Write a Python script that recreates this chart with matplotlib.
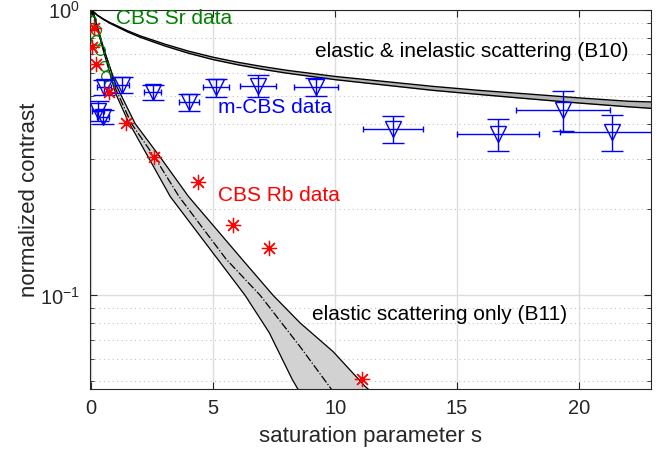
import matplotlib
matplotlib.use("Agg")
import matplotlib.pyplot as plt
import numpy as np
from matplotlib.ticker import FixedLocator, NullFormatter

plt.rcParams["font.family"] = ["Liberation Sans", "DejaVu Sans"]
plt.rcParams["mathtext.fontset"] = "custom"
plt.rcParams["mathtext.rm"] = "Liberation Sans"

# theory B10 (elastic & inelastic), upper / lower edge of band
s_b10 = [0, 0.1, 0.25, 0.5, 0.75, 1, 1.5, 2, 3, 4, 5, 6, 7, 8, 10, 12, 14, 16, 18, 20, 22, 23]
b10_hi = [1, 0.985, 0.96, 0.93, 0.905, 0.885, 0.845, 0.812, 0.76, 0.717, 0.683, 0.656,
          0.634, 0.615, 0.585, 0.562, 0.54, 0.522, 0.507, 0.492, 0.479, 0.476]
b10_lo = [1, 0.984, 0.958, 0.926, 0.9, 0.878, 0.837, 0.803, 0.749, 0.705, 0.67, 0.643,
          0.620, 0.601, 0.570, 0.546, 0.523, 0.505, 0.488, 0.472, 0.458, 0.452]

# theory B11 (elastic only): left edge, right edge, centre line
s_b11_lo = [0, 0.1, 0.5, 1.0, 1.5, 2.34, 3.24, 4.88, 6.31, 7.3, 8.24, 8.6]
b11_lo = [1, 0.97, 0.72, 0.51, 0.41, 0.305, 0.222, 0.145, 0.1, 0.074, 0.0508, 0.045]
s_b11_hi = [0, 0.1, 0.5, 1.0, 1.8, 2.83, 3.99, 6.18, 7.46, 8.57, 9.92, 11.23, 11.6]
b11_hi = [1, 0.975, 0.74, 0.55, 0.40, 0.305, 0.222, 0.134, 0.1, 0.08, 0.0635,
          0.048, 0.045]
s_b11_mid = [0, 0.5, 1.0, 1.65, 2.6, 3.6, 5.53, 6.93, 8.57, 9.8, 10.0]
b11_mid = [1, 0.73, 0.53, 0.40, 0.305, 0.222, 0.134, 0.1, 0.066, 0.0475, 0.045]

# CBS Sr data
s_sr = [0.01, 0.18, 0.2, 0.38, 0.52, 0.61, 0.73]
c_sr = [0.923, 0.851, 0.785, 0.725, 0.634, 0.585, 0.547]

# CBS Rb data
s_rb = [0.11, 0.04, 0.2, 0.73, 1.43, 2.59, 4.37, 5.83, 7.3, 11.1]
c_rb = [0.863, 0.744, 0.646, 0.516, 0.403, 0.305, 0.250, 0.176, 0.146, 0.0508]

# m-CBS data
s_m = [0.29, 0.49, 0.53, 1.27, 2.52, 4.02, 5.12, 6.84, 9.22, 12.36, 16.68, 19.34, 21.34]
c_m = [0.443, 0.423, 0.536, 0.547, 0.515, 0.475, 0.536, 0.542, 0.538, 0.384,
       0.369, 0.448, 0.375]
sx_m = [0.25, 0.25, 0.3, 0.3, 0.35, 0.41, 0.53, 0.72, 0.9, 1.23, 1.68, 1.93, 2.13]
cy_m = [0.036, 0.024, 0.032, 0.035, 0.031, 0.034, 0.039, 0.048, 0.039, 0.042,
        0.0475, 0.071, 0.054]

fig = plt.figure(figsize=(6.65, 4.58), dpi=100)
ax = fig.add_axes([0.1353, 0.1507, 0.8437, 0.8275])
ax.set_yscale("log")

# B11 band
s_band = np.linspace(0, 11.6, 300)
lo_i = np.interp(s_band, s_b11_lo, np.log10(b11_lo), right=np.log10(0.03))
hi_i = np.interp(s_band, s_b11_hi, np.log10(b11_hi))
ax.fill_between(s_band, 10**lo_i, 10**hi_i, color="#d2d2d2", lw=0, zorder=1)
ax.plot(s_b11_lo, b11_lo, color="k", lw=0.9, zorder=2)
ax.plot(s_b11_hi, b11_hi, color="k", lw=0.9, zorder=2)
ax.plot(s_b11_mid, b11_mid, color="k", lw=0.9, ls="-.", zorder=2)

# B10 band
ax.fill_between(s_b10, b10_lo, b10_hi, color="#b4b4b4", lw=0, zorder=1)
ax.plot(s_b10, b10_hi, color="k", lw=1.0, zorder=2)
ax.plot(s_b10, b10_lo, color="k", lw=1.0, zorder=2)

# data
ax.plot(s_sr, c_sr, "o", ms=7, mfc="none", mec="#008000", mew=0.9, zorder=3)
ax.plot(s_rb, c_rb, ls="none", marker=(8, 2, 0), ms=11, mec="red", mew=0.9, zorder=4)
ax.errorbar(s_m, c_m, yerr=cy_m, fmt="none", ecolor="blue", elinewidth=1,
            capsize=8, capthick=1, zorder=3)
ax.errorbar(s_m, c_m, xerr=sx_m, fmt="none", ecolor="blue", elinewidth=1,
            capsize=2, capthick=1, zorder=3)
ax.plot(s_m, c_m, "v", ms=11, mfc="none", mec="blue", mew=1, zorder=3)

# labels in plot
fs = 15
ax.text(1.0, 0.93, "CBS Sr data", color="#008000", fontsize=fs, va="center")
ax.text(9.18, 0.713, "elastic & inelastic scattering (B10)", color="k", fontsize=fs,
        va="center")
ax.text(5.2, 0.454, "m-CBS data", color="blue", fontsize=fs, va="center")
ax.text(5.2, 0.224, "CBS Rb data", color="red", fontsize=fs, va="center")
ax.text(9.06, 0.0859, "elastic scattering only (B11)", color="k", fontsize=fs,
        va="center")

ax.set_xlim(-0.05, 22.95)
ax.set_ylim(0.047, 1.0)
ax.set_xticks([0, 5, 10, 15, 20])
ax.yaxis.set_major_locator(FixedLocator([0.1, 1]))
ax.yaxis.set_minor_locator(FixedLocator([0.05, 0.06, 0.07, 0.08, 0.09,
                                         0.2, 0.3, 0.4, 0.5, 0.6, 0.7, 0.8, 0.9]))
ax.yaxis.set_minor_formatter(NullFormatter())
ax.set_yticklabels([r"$10^{-1}$", r"$10^{0}$"])

ax.grid(True, which="major", color="#dddddd", lw=1, ls="-")
ax.grid(True, which="minor", axis="y", color="#c4c4c4", lw=0.8, ls=(0, (1, 3)))
ax.set_axisbelow(True)

ax.tick_params(which="both", direction="in", top=True, right=True,
               labelsize=14.5, colors="#262626", pad=7)
ax.tick_params(which="major", length=5)
ax.tick_params(which="minor", length=3)
for sp in ax.spines.values():
    sp.set_color("#262626")

ax.set_xlabel("saturation parameter s", fontsize=16, color="#262626", labelpad=6)
ax.set_ylabel("normalized contrast", fontsize=16, color="#262626", labelpad=0)

fig.savefig("out.png", dpi=100)
